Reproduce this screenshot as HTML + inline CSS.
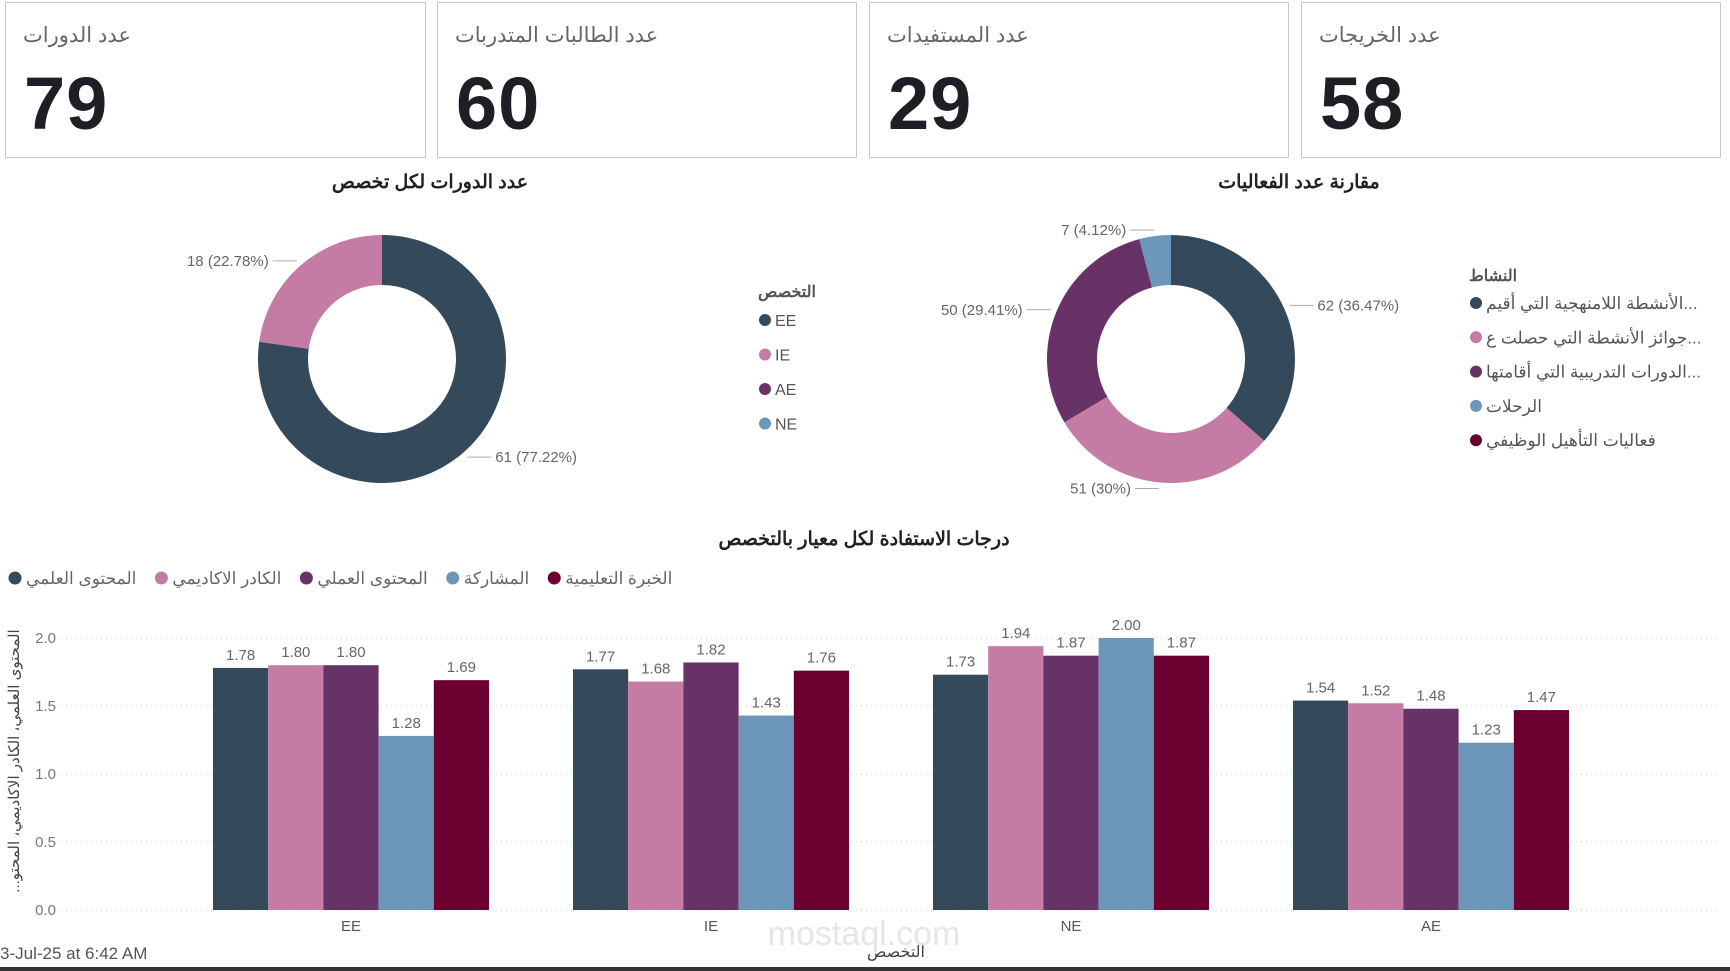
<!DOCTYPE html>
<html><head><meta charset="utf-8">
<style>
body{margin:0;width:1730px;height:971px;background:#fff;overflow:hidden;font-family:"Liberation Sans","Noto Sans CJK SC",sans-serif;position:relative}
.card{position:absolute;top:2px;height:156px;border:1.5px solid #c8c8c8;box-sizing:border-box;background:#fff}
.card .lbl{position:absolute;left:17px;top:20px;font-size:21px;color:#666;direction:rtl}
.card .num{position:absolute;left:18px;top:58px;font-size:74px;font-weight:bold;color:#1d1f24;font-family:"Liberation Sans Narrow","Liberation Sans",sans-serif;letter-spacing:1px}
svg text{font-family:"Liberation Sans","Noto Sans CJK SC",sans-serif}
</style></head><body>
<div class="card" style="left:5px;width:421px"><div class="lbl">عدد الدورات</div><div class="num">79</div></div>
<div class="card" style="left:437px;width:420px"><div class="lbl">عدد الطالبات المتدربات</div><div class="num">60</div></div>
<div class="card" style="left:869px;width:420px"><div class="lbl">عدد المستفيدات</div><div class="num">29</div></div>
<div class="card" style="left:1301px;width:420px"><div class="lbl">عدد الخريجات</div><div class="num">58</div></div>

<svg id="main" width="1730" height="971" style="position:absolute;left:0;top:0">
<text x="430" y="188" text-anchor="middle" font-size="19" font-weight="bold" fill="#222">عدد الدورات لكل تخصص</text>
<text x="1299" y="188" text-anchor="middle" font-size="19" font-weight="bold" fill="#222">مقارنة عدد الفعاليات</text>
<text x="864" y="545" text-anchor="middle" font-size="19" font-weight="bold" fill="#222">درجات الاستفادة لكل معيار بالتخصص</text>
<g id="d1"></g><g id="d2"></g><g id="leg1"></g><g id="leg2"></g><g id="bars"></g>
<text x="0" y="959" font-size="17" fill="#555">3-Jul-25 at 6:42 AM</text>
<text x="864" y="945" text-anchor="middle" font-size="34" fill="#e6e6e6">mostaql.com</text>
<rect x="0" y="967" width="1730" height="4" fill="#333"/>
</svg>
<script>
const NS='http://www.w3.org/2000/svg';
const COLORS=['#344a5a','#c47ca4','#673366','#6d97b8','#6b0030'];
// donut 1
const d1Cats=['EE','IE','AE','NE'];
const d1Vals=[61,18,0,0];
const d1Labels=['61 (77.22%)','18 (22.78%)'];
// donut 2
const d2Cats=['...الأنشطة اللامنهجية التي أقيم','...جوائز الأنشطة التي حصلت ع','...الدورات التدريبية التي أقامتها','الرحلات','فعاليات التأهيل الوظيفي'];
const d2Vals=[62,51,50,7,0];
const d2Labels=['62 (36.47%)','51 (30%)','50 (29.41%)','7 (4.12%)'];
// bars
const barCats=['EE','IE','NE','AE'];
const seriesNames=['المحتوى العلمي','الكادر الاكاديمي','المحتوى العملي','المشاركة','الخبرة التعليمية'];
const s1=[1.78,1.77,1.73,1.54];
const s2=[1.80,1.68,1.94,1.52];
const s3=[1.80,1.82,1.87,1.48];
const s4=[1.28,1.43,2.00,1.23];
const s5=[1.69,1.76,1.87,1.47];
const yTicks=[0,0.5,1.0,1.5,2.0];
const yTickLabels=['0.0','0.5','1.0','1.5','2.0'];

function mk(tag,attrs,parent){const e=document.createElementNS(NS,tag);for(const k in attrs)e.setAttribute(k,attrs[k]);parent.appendChild(e);return e;}

function donut(g,cx,cy,R,r,vals,labels,name){
  const tot=vals.reduce((a,b)=>a+b,0);let a0=0;let li=0;
  vals.forEach((v,i)=>{if(!v)return;const a1=a0+v/tot*2*Math.PI;
    const p=(a,rr)=>[cx+rr*Math.sin(a),cy-rr*Math.cos(a)];
    const [x1,y1]=p(a0,R),[x2,y2]=p(a1,R),[x3,y3]=p(a1,r),[x4,y4]=p(a0,r);const lg=(a1-a0)>Math.PI?1:0;
    const path=mk('path',{d:`M${x1},${y1}A${R},${R} 0 ${lg} 1 ${x2},${y2}L${x3},${y3}A${r},${r} 0 ${lg} 0 ${x4},${y4}Z`,fill:COLORS[i]},g);
    
    
    const am=(a0+a1)/2;const [ex,ey]=p(am,R+6);const right=Math.sin(am)>=0;
    const lx=ex+(right?14:-14),ly=ey;
    mk('polyline',{points:`${ex},${ey} ${lx},${ly} ${lx+(right?10:-10)},${ly}`,fill:'none',stroke:'#aaa','stroke-width':1},g);
    const t=mk('text',{x:lx+(right?14:-14),y:ly+5,'font-size':15,fill:'#666','text-anchor':right?'start':'end'},g);
    t.textContent=labels[li++];
    
    
    a0=a1;});
}
donut(document.getElementById('d1'),382,359,124,74,d1Vals,d1Labels,'donut1');
donut(document.getElementById('d2'),1171,359,124,74,d2Vals,d2Labels,'donut2');

// legend 1
const l1=document.getElementById('leg1');
let t=mk('text',{x:758,y:297,'font-size':16,'font-weight':'bold',fill:'#555'},l1);t.textContent='التخصص';


d1Cats.forEach((c,i)=>{const y=320+i*34.5;
  const e=mk('circle',{cx:765,cy:y,r:6,fill:COLORS[i]},l1);
  
  
  const tx=mk('text',{x:775,y:y+6,'font-size':16,fill:'#555'},l1);tx.textContent=c;
  
  });
// legend 2
const l2=document.getElementById('leg2');
t=mk('text',{x:1469,y:281,'font-size':16,'font-weight':'bold',fill:'#555'},l2);t.textContent='النشاط';


d2Cats.forEach((c,i)=>{const y=303+i*34.3;
  const e=mk('circle',{cx:1476,cy:y,r:6,fill:COLORS[i]},l2);
  
  
  const tx=mk('text',{x:1486,y:y+6,'font-size':17,fill:'#555',direction:'rtl','text-anchor':'end'},l2);tx.textContent=c;
  
  });

// bar chart
const bg=document.getElementById('bars');
const series=[s1,s2,s3,s4,s5];
const y0=910,yTop=638,yMax=2.0;
const ys=v=>y0-(v/yMax)*(y0-yTop);
const bandStart=171,band=360,barW=55.2;
const xs=(ci,si)=>bandStart+band*ci+band/2-barW*2.5+barW*si;
yTicks.forEach((v,i)=>{
  const ln=mk('line',{x1:61,x2:1721,y1:ys(v),y2:ys(v),stroke:'#ccc','stroke-dasharray':'1,4'},bg);
  
  
  const tx=mk('text',{x:56,y:ys(v)+5,'font-size':15,fill:'#777','text-anchor':'end'},bg);tx.textContent=yTickLabels[i];
  
  });
series.forEach((s,si)=>{s.forEach((v,ci)=>{
  const r=mk('rect',{x:xs(ci,si),y:ys(v),width:barW,height:y0-ys(v),fill:COLORS[si]},bg);
  
  
  const tx=mk('text',{x:xs(ci,si)+barW/2,y:ys(v)-8,'font-size':15,fill:'#666','text-anchor':'middle'},bg);tx.textContent=v.toFixed(2);
  
  });});
barCats.forEach((c,ci)=>{const tx=mk('text',{x:bandStart+band*ci+band/2,y:931,'font-size':15,fill:'#555','text-anchor':'middle'},bg);tx.textContent=c;
  
  });
t=mk('text',{x:896,y:957,'font-size':16,fill:'#444','text-anchor':'middle'},bg);t.textContent='التخصص';


t=mk('text',{x:0,y:0,'font-size':15,fill:'#444','text-anchor':'middle',transform:'translate(19,761) rotate(-90)'},bg);t.textContent='...المحتوى العلمي، الكادر الاكاديمي، المحتو';


// bar legend
let lx=8;
seriesNames.forEach((n,i)=>{
  const c=mk('circle',{cx:lx+7,cy:578,r:6.5,fill:COLORS[i]},bg);
  
  
  const tx=mk('text',{x:lx+18,y:584,'font-size':17,fill:'#666'},bg);tx.textContent=n;
  
  
  lx+=26+tx.getComputedTextLength()+10;});
</script>
</body></html>
